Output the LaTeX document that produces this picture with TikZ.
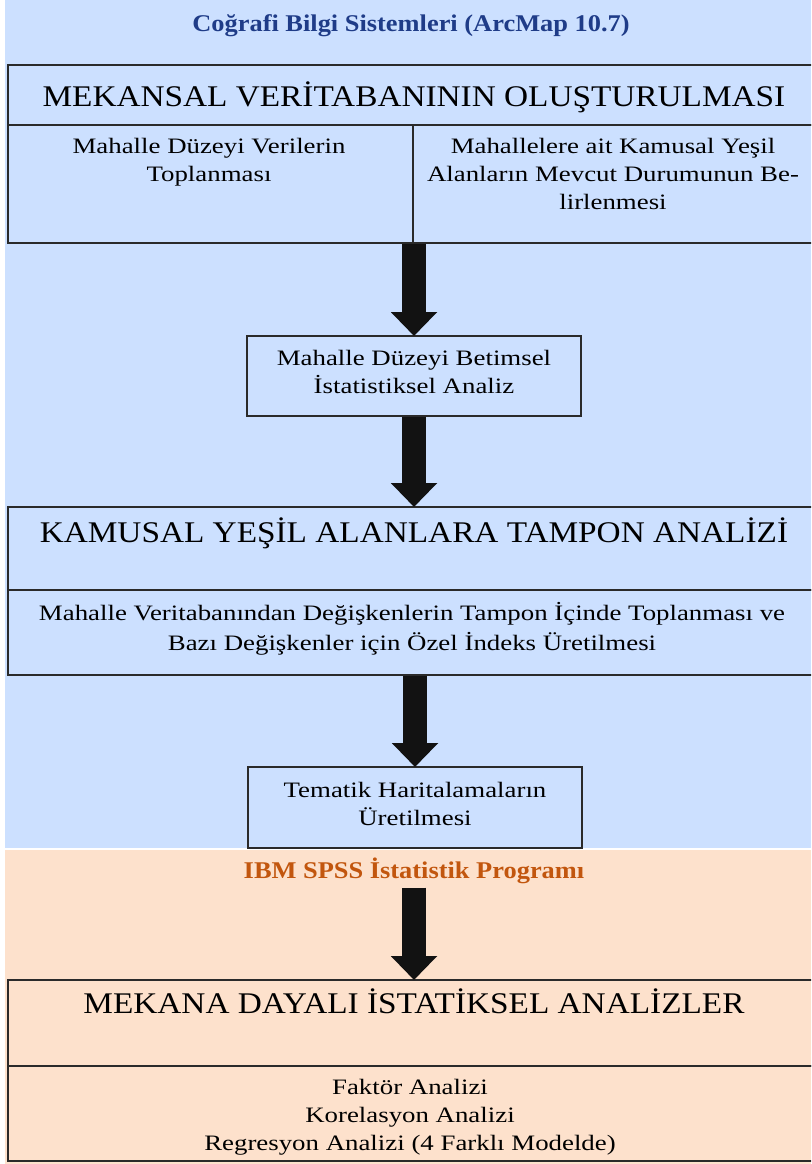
\documentclass[tikz,border=0pt]{standalone}
\usepackage{fontspec}
\setmainfont{Liberation Serif}
\newfontfamily\txtfont[FakeStretch=1.22]{Liberation Serif}
\newfontfamily\ttlfont[FakeStretch=1.11]{Liberation Serif}
\newfontfamily\hdrfont[FakeStretch=1.1]{Liberation Serif}
\usetikzlibrary{arrows.meta,calc}
\definecolor{gisblue}{HTML}{CCE0FF}
\definecolor{spsspeach}{HTML}{FDE1CC}
\definecolor{gisnavy}{HTML}{1F3C88}
\definecolor{spssorange}{HTML}{C2560E}
\definecolor{edge}{HTML}{2A2A2A}
\tikzset{
  cell/.style={draw=edge, line width=1.4pt, anchor=north west, inner sep=0pt, outer sep=0pt},
  bigtitle/.style={anchor=base, inner sep=0pt, font=\ttlfont\fontsize{30}{36}\selectfont},
  body/.style={anchor=base, inner sep=0pt, align=center, font=\txtfont\fontsize{22}{28}\selectfont},
  header/.style={anchor=base, inner sep=0pt, font=\hdrfont\bfseries\fontsize{24}{28}\selectfont},
  flow/.style={line width=24pt, draw=black!93,
    -{Triangle[width=45pt,length=24pt]}, shorten <=0.7pt}
}
\begin{document}
\begin{tikzpicture}[x=1pt, y={(0pt,-1pt)}]
  \useasboundingbox (0,0) rectangle (811,1164);
  \clip (0,0) rectangle (811,1164);
  % software bands
  \fill[gisblue] (5,0) rectangle (811,848);
  \fill[spsspeach] (5,850) rectangle (811,1164);

  \node[header, text=gisnavy] (gis) at (411,32) {Coğrafi Bilgi Sistemleri (ArcMap 10.7)};

  % spatial database block
  \node[cell, minimum width=810pt, minimum height=60pt] (b1title) at (8,65) {};
  \node[cell, minimum width=405pt, minimum height=118pt] (b1left) at (8,125) {};
  \node[cell, minimum width=405pt, minimum height=118pt] (b1right) at (413,125) {};
  \node[bigtitle] (t1) at (414,106) {MEKANSAL VERİTABANININ OLUŞTURULMASI};
  \node[body] (t1a) at (209,181) {Mahalle Düzeyi Verilerin\\Toplanması};
  \node[body] (t1b) at (613,209) {Mahallelere ait Kamusal Yeşil\\Alanların Mevcut Durumunun Be-\\lirlenmesi};

  % descriptive statistics
  \node[cell, minimum width=334pt, minimum height=80pt] (b2) at (247,336) {};
  \node[body] (t2) at (414,393) {Mahalle Düzeyi Betimsel\\İstatistiksel Analiz};

  % buffer analysis block
  \node[cell, minimum width=810pt, minimum height=83pt] (b3title) at (8,507) {};
  \node[cell, minimum width=810pt, minimum height=85pt] (b3body) at (8,590) {};
  \node[bigtitle] (t3) at (414,542) {KAMUSAL YEŞİL ALANLARA TAMPON ANALİZİ};
  \node[body, font=\txtfont\fontsize{22}{30}\selectfont] (t3a) at (412,650) {Mahalle Veritabanından Değişkenlerin Tampon İçinde Toplanması ve\\Bazı Değişkenler için Özel İndeks Üretilmesi};

  % thematic maps
  \node[cell, minimum width=334pt, minimum height=81pt] (b4) at (248,767) {};
  \node[body] (t4) at (415,825) {Tematik Haritalamaların\\Üretilmesi};

  \node[header, text=spssorange] (spss) at (414,878) {IBM SPSS İstatistik Programı};

  % statistical analyses block
  \node[cell, minimum width=810pt, minimum height=86pt] (b5title) at (8,980) {};
  \node[cell, minimum width=810pt, minimum height=95pt] (b5body) at (8,1066) {};
  \node[bigtitle] (t5) at (414,1013) {MEKANA DAYALI İSTATİKSEL ANALİZLER};
  \node[body] (t5a) at (410,1150) {Faktör Analizi\\Korelasyon Analizi\\Regresyon Analizi (4 Farklı Modelde)};

  % flow arrows
  \coordinate (a4start) at (414,887);
  \draw[flow] (b2.north |- b1left.south) -- (b2.north);
  \draw[flow] (b2.south) -- (b2.south |- b3title.north);
  \draw[flow] (b4.north |- b3body.south) -- (b4.north);
  \draw[flow] (a4start) -- (a4start |- b5title.north);
\end{tikzpicture}
\end{document}
